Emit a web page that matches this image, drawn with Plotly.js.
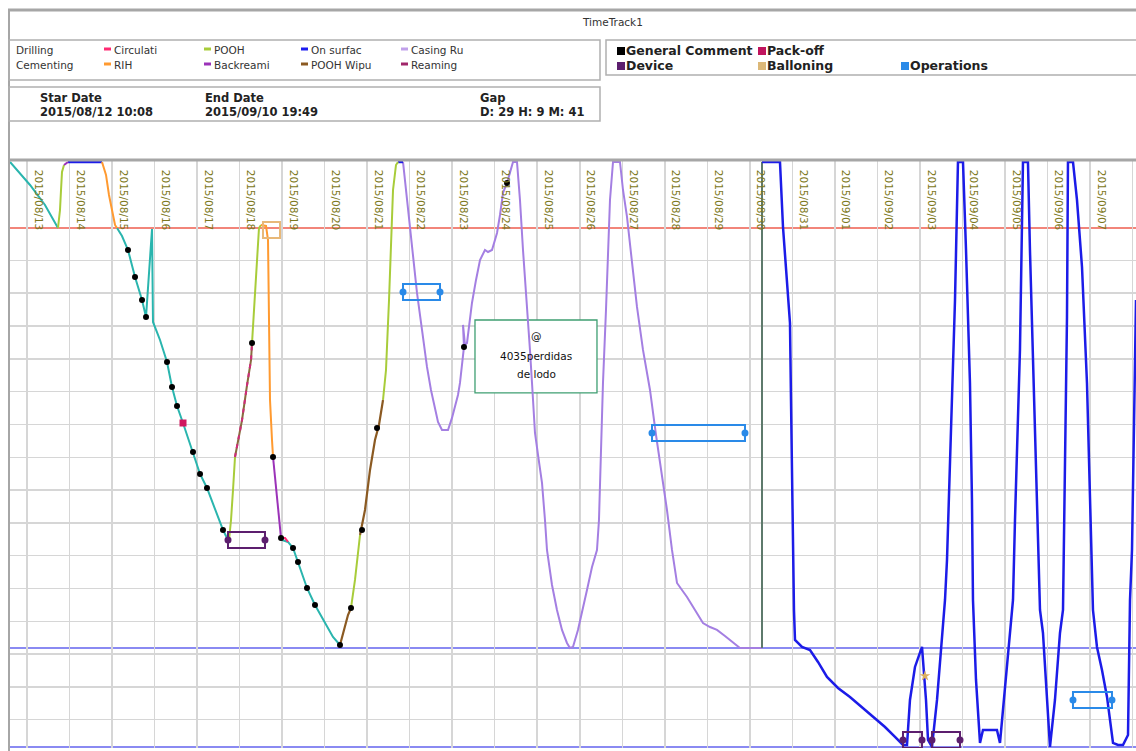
<!DOCTYPE html>
<html><head><meta charset="utf-8">
<script src="https://cdn.plot.ly/plotly-3.0.1.min.js"></script>
<style>body{margin:0;background:#fff}#chart{width:1136px;height:751px}</style>
</head><body><div id="chart"></div>
<script>
// ---------- DATA (time = days since 2015-08-12 00:00, depth in m) ----------
const tickLabels = ['2015/08/13','2015/08/14','2015/08/15','2015/08/16','2015/08/17','2015/08/18','2015/08/19','2015/08/20','2015/08/21','2015/08/22','2015/08/23','2015/08/24','2015/08/25','2015/08/26','2015/08/27','2015/08/28','2015/08/29','2015/08/30','2015/08/31','2015/09/01','2015/09/02','2015/09/03','2015/09/04','2015/09/05','2015/09/06','2015/09/07','2015/09/08'];

const drillingDay   = [0.600,1.071,1.423,1.729,null,3.117,3.234,3.375,3.540,3.705,3.799,3.940,3.963,4.128,4.293,4.410,4.528,4.669,4.904,5.069,5.233,5.421,5.609,5.727,null,6.997,7.138,7.256,7.373,7.585,7.773,8.008,8.196,8.361];
const drillingDepth = [0,351,655,1006,null,1006,1128,1341,1753,2103,2362,1021,2438,2713,3048,3429,3719,3978,4420,4755,4968,5304,5608,5761,null,5761,5791,5883,6096,6492,6751,7010,7239,7361];

const poohDay   = [1.729,1.776,1.800,1.823,1.870,null,5.751,5.798,5.845,5.892,null,6.292,6.339,6.386,6.433,6.456,6.503,null,8.620,8.714,8.832,null,9.373,9.443,9.514,9.561,9.608,9.678,9.725];
const poohDepth = [1006,732,427,152,46,null,5761,5456,4999,4496,null,2758,2255,1646,1189,1006,960,null,6797,6370,5685,null,3627,3170,2103,1189,427,46,0];

const rihDay   = [2.764,2.858,2.928,2.999,3.070,3.117,null,6.503,6.621,6.668,6.692,6.715,6.762,6.786];
const rihDepth = [0,198,503,762,960,1006,null,960,975,1189,2560,3627,4237,4496];

const backreamDay   = [1.870,1.964,null,6.786,6.856,6.927,6.974];
const backreamDepth = [46,0,null,4496,4999,5456,5730];

const reamingDay   = [5.892,6.057,6.175,6.269,6.292];
const reamingDepth = [4496,3932,3399,3018,2758];

const circDay   = [6.974,7.068,7.138];
const circDepth = [5730,5730,5791];

const wipeDay   = [8.361,8.455,8.549,8.620,null,8.832,8.949,9.067,9.184,9.278,9.373];
const wipeDepth = [7361,7132,6904,6797,null,5685,5304,4694,4237,4008,3627];

const casingDay = [9.843,9.913,10.007,10.101,10.172,10.290,10.407,10.501,10.595,10.666,10.760,10.901,10.995,11.066,11.136,11.183,11.230,11.277,11.254,11.301,11.348,11.418,11.465,11.560,11.654,11.771,11.842,11.936,12.007,12.054,12.124,12.195,12.289,12.359,12.430,12.524,12.594,12.665,12.735,12.782,12.829,12.877,12.924,12.947,13.018,13.112,13.182,13.229,13.347,13.464,13.582,13.699,13.770,13.840,13.958,14.053,14.170,14.288,14.358,14.405,14.452,14.476,14.523,14.546,14.617,14.664,14.711,14.782,14.946,15.017,15.111,15.228,15.346,15.487,15.652,15.793,15.957,16.051,16.169,16.287,16.404,16.522,16.710,16.898,17.063,17.227,17.415,17.604,17.768,18.286];
const casingDepth = [0,427,1082,1570,1996,2560,3124,3475,3780,3962,4084,4084,3901,3734,3551,3368,3094,2819,2484,2789,2758,2408,2149,1798,1494,1341,1372,1341,1189,1082,808,472,320,152,0,0,579,1341,1951,2362,2865,3368,3932,4130,4465,4892,5456,5913,6447,6828,7132,7330,7407,7391,7132,6873,6523,6172,6035,5913,5456,4892,4084,3368,2255,1341,579,0,0,427,838,1524,2210,2865,3475,4161,4892,5304,5913,6416,6523,6629,6828,7026,7087,7132,7224,7330,7407,7407];

const cementDay   = [18.286,18.286];
const cementDepth = [7407,0];

const surfDay = [1.964,2.764,null,9.725,9.843,null,
 18.286,18.709,18.780,18.874,18.944,18.968,18.991,19.015,19.038,19.062,19.227,19.415,19.603,19.815,20.073,20.355,20.638,20.897,21.179,21.414,21.602,21.696,21.766,21.884,21.978,22.049,22.072,22.143,22.190,22.284,22.402,22.496,22.590,22.637,22.707,22.778,22.825,22.895,23.013,23.084,23.177,23.224,23.248,23.319,23.413,23.483,23.577,23.812,23.883,23.977,24.048,24.189,24.236,24.353,24.424,24.541,24.588,24.659,24.730,24.824,24.894,24.988,25.059,25.176,25.294,25.365,25.412,25.459,25.482,25.600,25.694,25.812,25.929,26.000,26.070,26.164,26.282,26.400,26.541,26.658,26.776,26.894,26.941,26.988,27.035,27.082];
const surfDepth = [0,0,null,0,0,null,
 0,0,991,1798,2454,3627,4892,6066,6828,7285,7391,7437,7620,7849,8016,8153,8306,8458,8611,8763,8885,8885,8199,7696,7513,7391,7589,8199,8808,8915,8199,7437,6675,6066,4694,3368,2103,0,0,1341,3368,5151,6675,7894,8854,8656,8656,8656,8854,8199,7696,6675,5456,2865,0,0,1341,3124,4846,6828,7178,8199,8915,8199,7178,6828,4389,2362,0,0,579,1600,3368,5151,6828,7391,7742,8153,8854,8885,8885,8732,6675,5913,3627,2103];

const commentDay   = [3.375,3.540,3.705,3.799,4.293,4.410,4.528,4.904,5.069,5.233,5.609,6.292,6.786,6.974,7.256,7.373,7.585,7.773,8.361,8.620,8.879,9.232,11.277,12.289];
const commentDepth = [1341,1753,2103,2362,3048,3429,3719,4420,4755,4968,5608,2758,4496,5730,5883,6096,6492,6751,7361,6797,5608,4054,2819,320];

const packoffDay = [4.669], packoffDepth = [3978];
const balloonDay = [22.119], balloonDepth = [7833];
const balloonBoxStart = [6.550], balloonBoxEnd = [6.950], balloonBoxDepth = [1036];

const deviceStart = [5.727,21.602,22.284], deviceEnd = [6.597,22.049,22.943], deviceDepth = [5761,8808,8808];
const opsStart = [9.843,15.699,25.600], opsEnd = [10.713,17.886,26.517], opsDepth = [1981,4130,8199];

const refDepthRed = [1006];
const refDepthBlue = [7407,8915];

const commentBox = {x0:11.536, x1:14.405, d0:2408, d1:3520, tipDay:11.019, tipDepth:4054, baseA:12.007, baseB:12.782, textDay:12.971, textDepth:2957};
const commentLines = ['@','4035perdidas','de lodo'];

const legendLeftNames  = ['Drilling','Circulati','POOH','On surfac','Casing Ru','Cementing','RIH','Backreami','POOH Wipu','Reaming'];
const legendLeftColors = [null,'#ff2a72','#a8cc3a','#1c1cf0','#c0a0ea',null,'#ff9a30','#9b32b8','#8b5a22','#a0266a'];
const legendRightNames  = ['General Comment','Pack-off','Device','Balloning','Operations'];
const legendRightColors = ['#000000','#c0145e','#5c1e6e','#dcb878','#2a8ae8'];
const infoLabels = ['Star Date','End Date','Gap'];
const infoValues = ['2015/08/12 10:08','2015/09/10 19:49','D: 29 H: 9 M: 41'];
const chartTitle = 'TimeTrack1';

// ---------- helpers ----------
const base = Date.UTC(2015,7,12);
function toDate(d){ if(d===null||d===undefined) return null; return new Date(base+d*86400000).toISOString().replace('T',' ').slice(0,19); }
function dates(a){ return a.map(toDate); }
function labelToDate(s){ return s.replace(/\//g,'-') + ' 00:00:00'; }
const W=1136,H=751,L=10,R=0,T=160,B=3;
const pw=W-L-R, ph=H-T-B;
const xp = x => (x-L)/pw;
const yp = y => (H-B-y)/ph;

function line(name,days,depths,color,width,dash){
  return {type:'scatter',mode:'lines',name:name,x:dates(days),y:depths,line:{color:color,width:width,dash:dash||'solid'},connectgaps:false,hoverinfo:'skip'};
}
const traces = [
  line('Casing Ru',casingDay,casingDepth,'#a47fe2',2),
  line('Cementing',cementDay,cementDepth,'#5e7a6c',2),
  line('On surfac',surfDay,surfDepth,'#1c1ce8',2.5),
  line('Drilling',drillingDay,drillingDepth,'#2ab5ae',2),
  line('POOH',poohDay,poohDepth,'#a8cc3a',2),
  line('RIH',rihDay,rihDepth,'#ff9a30',2),
  line('Backreami',backreamDay,backreamDepth,'#9b32b8',2),
  line('Reaming',reamingDay,reamingDepth,'#8a6a40',2),
  line('Reaming',reamingDay,reamingDepth,'#d02a7a',2,'4px,5px'),
  line('Circulati',circDay,circDepth,'#ff2a72',2),
  line('POOH Wipu',wipeDay,wipeDepth,'#8b5a22',2.2),
  {type:'scatter',mode:'markers',x:dates(commentDay),y:commentDepth,marker:{color:'#000',size:6},hoverinfo:'skip'},
  {type:'scatter',mode:'markers',x:dates(packoffDay),y:packoffDepth,marker:{color:'#d0185e',size:7,symbol:'square'},hoverinfo:'skip'},
  {type:'scatter',mode:'markers',x:dates(balloonDay),y:balloonDepth,marker:{color:'#dcb060',size:8,symbol:'star'},hoverinfo:'skip'},
  {type:'scatter',mode:'markers',x:dates(deviceStart.concat(deviceEnd)),y:deviceDepth.concat(deviceDepth),marker:{color:'#5c1e6e',size:7},hoverinfo:'skip'},
  {type:'scatter',mode:'markers',x:dates(opsStart.concat(opsEnd)),y:opsDepth.concat(opsDepth),marker:{color:'#2a8ae8',size:7},hoverinfo:'skip'}
];

const shapes = [];
refDepthRed.forEach(d=>shapes.push({type:'line',layer:'between',xref:'paper',x0:0,x1:1,yref:'y',y0:d,y1:d,line:{color:'#f2857a',width:2}}));
refDepthBlue.forEach(d=>shapes.push({type:'line',layer:'between',xref:'paper',x0:0,x1:1,yref:'y',y0:d,y1:d,line:{color:'#8a8af2',width:2}}));
function box(s,e,d,color){ shapes.push({type:'rect',layer:'above',xref:'x',yref:'y',x0:toDate(s),x1:toDate(e),ysizemode:'pixel',yanchor:d,y0:-8,y1:8,line:{color:color,width:2},fillcolor:'rgba(0,0,0,0)'}); }
deviceStart.forEach((s,i)=>box(s,deviceEnd[i],deviceDepth[i],'#5c1e6e'));
opsStart.forEach((s,i)=>box(s,opsEnd[i],opsDepth[i],'#2a8ae8'));
balloonBoxStart.forEach((s,i)=>box(s,balloonBoxEnd[i],balloonBoxDepth[i],'#e8b878'));
shapes.push({type:'rect',layer:'between',xref:'x',yref:'y',x0:toDate(commentBox.x0),x1:toDate(commentBox.x1),y0:commentBox.d0,y1:commentBox.d1,line:{color:'#3f9f72',width:1.3},fillcolor:'#ffffff'});
shapes.push({type:'path',layer:'between',xref:'x',yref:'y',path:'M '+toDate(commentBox.baseA)+','+commentBox.d1+' L '+toDate(commentBox.tipDay)+','+commentBox.tipDepth+' L '+toDate(commentBox.baseB)+','+commentBox.d1,line:{color:'#3f9f72',width:1.3}});
const gray='#a6a6a6';
shapes.push({type:'line',xref:'paper',yref:'paper',x0:xp(8),x1:xp(1136),y0:yp(10),y1:yp(10),line:{color:gray,width:3}});
shapes.push({type:'line',xref:'paper',yref:'paper',x0:xp(9),x1:xp(9),y0:yp(10),y1:yp(751),line:{color:gray,width:2}});
shapes.push({type:'line',xref:'paper',yref:'paper',x0:xp(8),x1:xp(1136),y0:yp(160),y1:yp(160),line:{color:gray,width:3}});
shapes.push({type:'rect',xref:'paper',yref:'paper',x0:xp(9),x1:xp(600),y0:yp(40),y1:yp(80),line:{color:'#b0b0b0',width:1.5}});
shapes.push({type:'rect',xref:'paper',yref:'paper',x0:xp(606),x1:xp(1140),y0:yp(40),y1:yp(75),line:{color:'#b0b0b0',width:1.5}});
shapes.push({type:'rect',xref:'paper',yref:'paper',x0:xp(9),x1:xp(600),y0:yp(87),y1:yp(121),line:{color:'#b0b0b0',width:1.5}});

const annotations = [];
const font = 'DejaVu Sans, sans-serif';
annotations.push({xref:'paper',yref:'paper',x:xp(612),y:yp(22),text:chartTitle,showarrow:false,font:{family:font,size:10.5,color:'#333'},xanchor:'center',yanchor:'middle'});
const colX=[15,113,213,310,410], rowY=[50,65];
legendLeftNames.forEach((n,i)=>{
  const cx=colX[i%5], cy=rowY[Math.floor(i/5)];
  annotations.push({xref:'paper',yref:'paper',x:xp(cx-1),y:yp(cy),text:n,showarrow:false,font:{family:font,size:10.5,color:'#333'},xanchor:'left',yanchor:'middle'});
  if(legendLeftColors[i]) shapes.push({type:'line',xref:'paper',yref:'paper',x0:xp(cx-9),x1:xp(cx-2),y0:yp(cy-1),y1:yp(cy-1),line:{color:legendLeftColors[i],width:3}});
});
const rPos=[[625,51],[766,51],[625,66],[766,66],[909,66]];
legendRightNames.forEach((n,i)=>{
  const [cx,cy]=rPos[i];
  shapes.push({type:'rect',xref:'paper',yref:'paper',x0:xp(cx-8),x1:xp(cx),y0:yp(cy+4),y1:yp(cy-4),line:{width:0},fillcolor:legendRightColors[i]});
  annotations.push({xref:'paper',yref:'paper',x:xp(cx-1),y:yp(cy),text:'<b>'+n+'</b>',showarrow:false,font:{family:font,size:12.5,color:'#222'},xanchor:'left',yanchor:'middle'});
});
const infoX=[40,205,480];
infoLabels.forEach((n,i)=>{
  annotations.push({xref:'paper',yref:'paper',x:xp(infoX[i]-2),y:yp(98),text:'<b>'+n+'</b>',showarrow:false,font:{family:font,size:11.5,color:'#222'},xanchor:'left',yanchor:'middle'});
  annotations.push({xref:'paper',yref:'paper',x:xp(infoX[i]-2),y:yp(112),text:'<b>'+infoValues[i]+'</b>',showarrow:false,font:{family:font,size:11.5,color:'#222'},xanchor:'left',yanchor:'middle'});
});
const lineShift=[20,0,-18];
commentLines.forEach((t,i)=>annotations.push({xref:'x',yref:'y',x:toDate(commentBox.textDay),y:commentBox.textDepth,yshift:lineShift[i],text:t,showarrow:false,font:{family:font,size:10.5,color:'#111'}}));

const layout = {
  width:W,height:H,margin:{l:L,r:R,t:T,b:B,pad:0},
  paper_bgcolor:'#fff',plot_bgcolor:'#fff',showlegend:false,
  xaxis:{type:'date',range:[toDate(0.600),toDate(27.082)],side:'top',tickmode:'array',
    tickvals:tickLabels.map(labelToDate),ticktext:tickLabels,tickangle:90,ticklabelposition:'inside',
    ticklabelshift:11,ticklabelstandoff:1,tickfont:{family:'DejaVu Sans, sans-serif',size:10.5,color:'#7c7720'},
    showgrid:true,gridcolor:'#d6d6d6',gridwidth:1.5,zeroline:false,showline:false,ticks:''},
  yaxis:{range:[8931,-30],tick0:0,dtick:500,showticklabels:false,showgrid:true,gridcolor:'#d6d6d6',gridwidth:1.5,zeroline:false,showline:false,ticks:''},
  shapes:shapes,annotations:annotations
};
Plotly.newPlot('chart',traces,layout,{staticPlot:true,displayModeBar:false});
</script></body></html>
